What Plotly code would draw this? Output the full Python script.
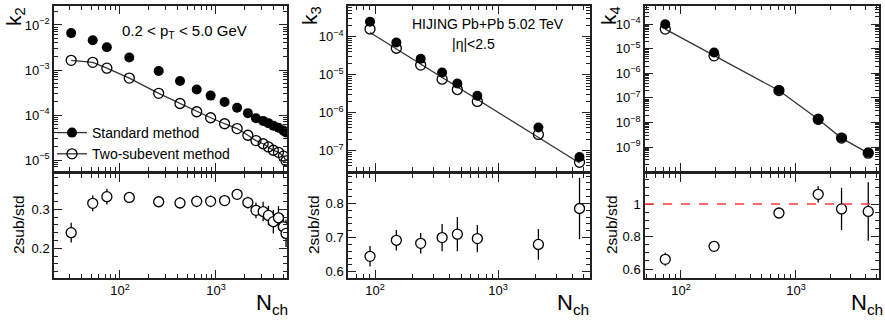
import numpy as np
import plotly.graph_objects as go

# ---------------- data ----------------
nch_k2 = [31, 52, 73, 125, 253, 422, 630, 880, 1230, 1660, 2150, 2610, 3100, 3520, 3960, 4480, 5040, 5370]
k2_std = [6.6e-3, 4.6e-3, 3.2e-3, 1.9e-3, 9.5e-4, 5.7e-4, 3.7e-4, 2.7e-4, 1.95e-4, 1.45e-4,
          1.1e-4, 8.5e-5, 7.4e-5, 6.6e-5, 5.8e-5, 5.2e-5, 4.5e-5, 4.1e-5]
k2_sub = [1.64e-3, 1.48e-3, 1.1e-3, 6.6e-4, 3.03e-4, 1.8e-4, 1.18e-4, 8.7e-5, 6.4e-5, 5.0e-5,
          3.55e-5, 2.7e-5, 2.3e-5, 1.95e-5, 1.65e-5, 1.48e-5, 1.22e-5, 9.6e-6]
ratio_k2 = [0.24, 0.315, 0.332, 0.33, 0.319, 0.316, 0.32, 0.32, 0.322, 0.338,
            0.317, 0.297, 0.294, 0.284, 0.268, 0.278, 0.255, 0.238]
ratio_k2_err = [0.025, 0.02, 0.02, 0.012, 0.012, 0.015, 0.015, 0.015, 0.012, 0.012,
                0.015, 0.02, 0.025, 0.025, 0.03, 0.03, 0.03, 0.035]

nch_k3 = [91, 149, 235, 351, 467, 679, 2130, 4600]
k3_std = [2.5e-4, 7.1e-5, 2.65e-5, 1.15e-5, 5.9e-6, 2.8e-6, 4.1e-7, 6.9e-8]
k3_sub = [1.6e-4, 5.0e-5, 1.8e-5, 7.7e-6, 4.1e-6, 2.0e-6, 2.7e-7, 5.0e-8]
ratio_k3 = [0.645, 0.692, 0.683, 0.70, 0.71, 0.697, 0.68, 0.785]
ratio_k3_err = [0.03, 0.03, 0.03, 0.04, 0.05, 0.04, 0.045, 0.09]

nch_k4 = [73, 194, 711, 1560, 2490, 4250]
k4_std = [1.0e-4, 7.1e-6, 2.1e-7, 1.3e-8, 2.4e-9, 5.9e-10]
k4_sub = [6.4e-5, 5.2e-6, 2.0e-7, 1.35e-8, 2.3e-9, 5.6e-10]
ratio_k4 = [0.66, 0.74, 0.945, 1.06, 0.97, 0.955]
ratio_k4_err = [0.04, 0.03, 0.02, 0.05, 0.13, 0.18]

ratio_reference = 1.0

legend_labels = ["Standard method", "Two-subevent method"]
y_titles = ["k<sub>2</sub>", "k<sub>3</sub>", "k<sub>4</sub>"]
ratio_title = "2sub/std"
x_title = "N<sub>ch</sub>"

# ---------------- layout geometry ----------------
W, H = 885, 321
FONT = "Liberation Sans, Arial, Helvetica, sans-serif"
FRAME = "#222"


def px_x(p):
    return p / W


def px_y(p):
    return 1 - p / H


panel_x = [(54, 287), (348, 590), (645, 879)]
top_y = (6, 171)
bot_y = (174, 278)

x_ranges = [[1.3125, 3.74], [1.78, 3.748], [1.687, 3.722]]
top_ranges = [[-5.244, -1.578], [-7.53, -3.19], [-9.978, -3.254]]
bot_ranges = [[0.124, 0.39], [0.5816, 0.886], [0.545, 1.185]]
bot_ticks = [[0.2, 0.3], [0.6, 0.7, 0.8], [0.6, 0.8, 1.0]]
bot_ticktext = [["0.2", "0.3"], ["0.6", "0.7", "0.8"], ["0.6", "0.8", "1"]]
bot_minor = [0.02, 0.02, 0.05]


def sup(e):
    return "10<sup>\u2212%d</sup>" % (-e) if e < 0 else "10<sup>%d</sup>" % e


def log_minor(lo, hi):
    return [m * 10.0 ** e for e in range(int(np.floor(lo)) - 1, int(np.ceil(hi)) + 1) for m in range(2, 10)]


def log_major(lo, hi):
    return [e for e in range(int(np.floor(lo)) - 1, int(np.ceil(hi)) + 1) if lo <= e <= hi]


fig = go.Figure()

series = [
    (nch_k2, k2_std, k2_sub, ratio_k2, ratio_k2_err),
    (nch_k3, k3_std, k3_sub, ratio_k3, ratio_k3_err),
    (nch_k4, k4_std, k4_sub, ratio_k4, ratio_k4_err),
]

LINE_C = "#333"
MS = 10

for i, (nch, std, sub, rat, rerr) in enumerate(series):
    xt = "x" if i == 0 else "x%d" % (2 * i + 1)
    yt = "y" if i == 0 else "y%d" % (2 * i + 1)
    xb = "x%d" % (2 * i + 2)
    yb = "y%d" % (2 * i + 2)

    if i == 1:
        # power-law fit line through the two-subevent points
        lx = np.log10(nch)
        ly = np.log10(sub)
        b, a = np.polyfit(lx, ly, 1)
        fx = np.array([nch[0], nch[-1]], dtype=float)
        fy = 10 ** (a + b * np.log10(fx))
        fig.add_trace(go.Scatter(x=fx, y=fy, mode="lines", line=dict(color=LINE_C, width=1.3),
                                 xaxis=xt, yaxis=yt, showlegend=False, hoverinfo="skip"))
        fig.add_trace(go.Scatter(x=nch, y=sub, mode="markers",
                                 marker=dict(symbol="circle-open", size=MS, color="black", line=dict(width=1.3)),
                                 xaxis=xt, yaxis=yt, showlegend=False))
    else:
        fig.add_trace(go.Scatter(x=nch, y=sub, mode="lines+markers",
                                 line=dict(color=LINE_C, width=1.3),
                                 marker=dict(symbol="circle-open", size=MS, color="black", line=dict(width=1.3)),
                                 xaxis=xt, yaxis=yt, showlegend=False))
    fig.add_trace(go.Scatter(x=nch, y=std, mode="markers",
                             marker=dict(symbol="circle", size=MS, color="black"),
                             xaxis=xt, yaxis=yt, showlegend=False))
    fig.add_trace(go.Scatter(x=nch, y=rat, mode="markers",
                             marker=dict(symbol="circle", size=MS, color="white", line=dict(color="black", width=1.3)),
                             error_y=dict(type="data", array=rerr, color="black", thickness=1.3, width=0),
                             xaxis=xb, yaxis=yb, showlegend=False))

# legend entries (symbol with line through it, as in the reference)
fig.add_trace(go.Scatter(x=[None], y=[None], mode="lines+markers", name=legend_labels[0],
                         line=dict(color=LINE_C, width=1.3),
                         marker=dict(symbol="circle", size=MS, color="black"), xaxis="x", yaxis="y"))
fig.add_trace(go.Scatter(x=[None], y=[None], mode="lines+markers", name=legend_labels[1],
                         line=dict(color=LINE_C, width=1.3),
                         marker=dict(symbol="circle-open", size=MS, color="black", line=dict(width=1.3)),
                         xaxis="x", yaxis="y"))

layout = dict(
    width=W, height=H,
    margin=dict(l=0, r=0, t=0, b=0),
    paper_bgcolor="white", plot_bgcolor="white",
    font=dict(family=FONT, size=14, color="black"),
    showlegend=True,
    legend=dict(x=px_x(52), y=px_y(117), xanchor="left", yanchor="top",
                bgcolor="rgba(0,0,0,0)", font=dict(size=14), itemwidth=30,
                tracegroupgap=0),
)

common = dict(showline=True, linecolor=FRAME, linewidth=1.5, mirror="allticks",
              ticks="inside", tickcolor=FRAME, tickwidth=1.1, showgrid=False, zeroline=False,
              tickfont=dict(size=13, family=FONT))

for i in range(3):
    n_top = 2 * i + 1
    n_bot = 2 * i + 2
    kx_t = "xaxis" if n_top == 1 else "xaxis%d" % n_top
    ky_t = "yaxis" if n_top == 1 else "yaxis%d" % n_top
    kx_b = "xaxis%d" % n_bot
    ky_b = "yaxis%d" % n_bot
    at_xt = "x" if n_top == 1 else "x%d" % n_top
    at_yt = "y" if n_top == 1 else "y%d" % n_top
    dom_x = [px_x(panel_x[i][0]), px_x(panel_x[i][1])]
    xr = x_ranges[i]
    xmaj = [10.0 ** e for e in log_major(*xr)]
    xmin = log_minor(*xr)

    layout[kx_t] = dict(common, type="log", domain=dom_x, range=xr, anchor=at_yt,
                        tickvals=xmaj, ticklen=8, showticklabels=False,
                        minor=dict(tickvals=xmin, ticks="inside", ticklen=4, tickcolor=FRAME, tickwidth=1.1, showgrid=False))
    tr = top_ranges[i]
    ymaj = log_major(*tr)
    layout[ky_t] = dict(common, type="log", domain=[px_y(top_y[1]), px_y(top_y[0])], range=tr, anchor=at_xt,
                        tickvals=[10.0 ** e for e in ymaj], ticktext=[sup(e) for e in ymaj], ticklen=8,
                        minor=dict(tickvals=log_minor(*tr), ticks="inside", ticklen=4, tickcolor=FRAME, tickwidth=1.1, showgrid=False))
    layout[kx_b] = dict(common, type="log", domain=dom_x, range=xr, anchor="y%d" % n_bot,
                        tickvals=xmaj, ticktext=[sup(int(round(np.log10(v)))) for v in xmaj], ticklen=8,
                        minor=dict(tickvals=xmin, ticks="inside", ticklen=4, tickcolor=FRAME, tickwidth=1.1, showgrid=False))
    layout[ky_b] = dict(common, domain=[px_y(bot_y[1]), px_y(bot_y[0])], range=bot_ranges[i], anchor="x%d" % n_bot,
                        tickvals=bot_ticks[i], ticktext=bot_ticktext[i], ticklen=8,
                        minor=dict(dtick=bot_minor[i], ticks="inside", ticklen=4, tickcolor=FRAME, tickwidth=1.1, showgrid=False))

fig.update_layout(**layout)

# reference line at ratio = 1 in the k4 panel
fig.add_shape(type="line", xref="x6 domain", yref="y6", x0=0, x1=1, y0=ratio_reference, y1=ratio_reference,
              line=dict(color="#ff3b3b", width=1.5, dash="dash"))

ann = []
k_pos = [(15, 17), (311, 16), (610, 16)]
r_pos = [(18, 225), (313, 225), (611, 225)]
n_pos = [290, 591, 885]
for i in range(3):
    ann.append(dict(text=y_titles[i], x=px_x(k_pos[i][0]), y=px_y(k_pos[i][1]), xref="paper", yref="paper",
                    showarrow=False, textangle=-90, font=dict(size=21), xanchor="center", yanchor="middle"))
    ann.append(dict(text=ratio_title, x=px_x(r_pos[i][0]), y=px_y(r_pos[i][1]), xref="paper", yref="paper",
                    showarrow=False, textangle=-90, font=dict(size=15.5), xanchor="center", yanchor="middle"))
    ann.append(dict(text=x_title, x=px_x(n_pos[i]), y=px_y(320), xref="paper", yref="paper",
                    showarrow=False, font=dict(size=22), xanchor="right", yanchor="bottom"))

ann.append(dict(text="0.2 < p<sub>T</sub> < 5.0 GeV", x=px_x(184), y=px_y(31), xref="paper", yref="paper",
                showarrow=False, font=dict(size=15), xanchor="center", yanchor="middle"))
ann.append(dict(text="HIJING Pb+Pb 5.02 TeV", x=px_x(488), y=px_y(24), xref="paper", yref="paper",
                showarrow=False, font=dict(size=14), xanchor="center", yanchor="middle"))
ann.append(dict(text="|\u03b7|<2.5", x=px_x(473), y=px_y(44), xref="paper", yref="paper",
                showarrow=False, font=dict(size=14), xanchor="center", yanchor="middle"))

fig.update_layout(annotations=ann)

fig.write_html("out.html")
